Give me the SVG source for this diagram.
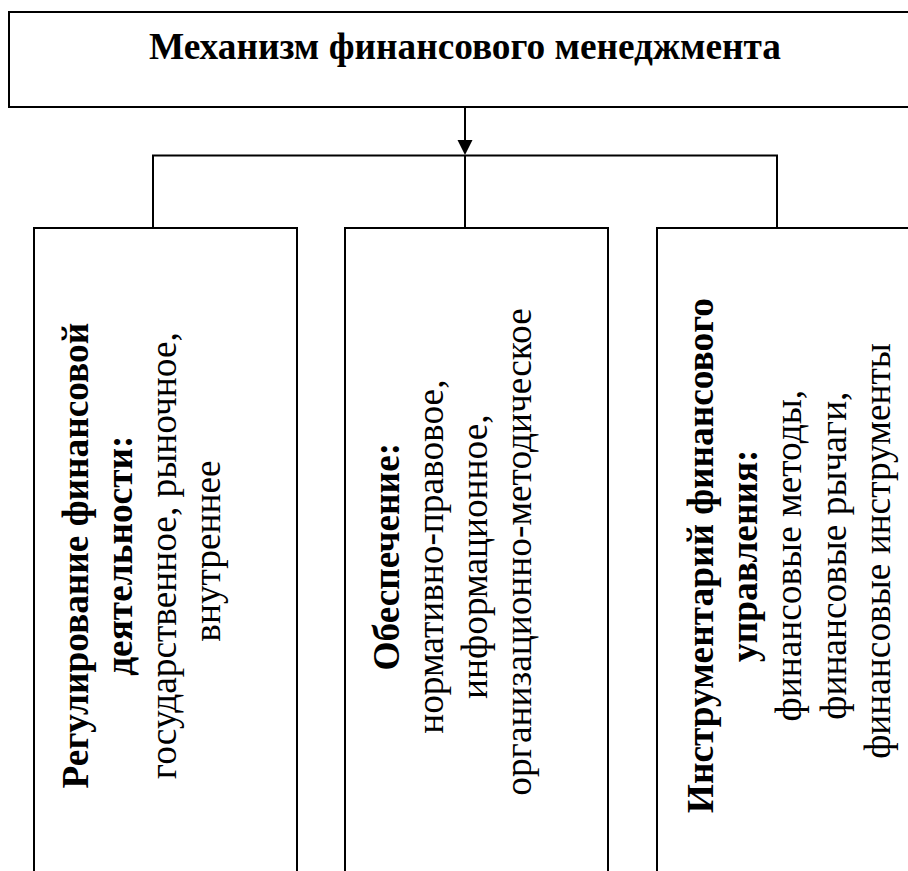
<svg xmlns="http://www.w3.org/2000/svg" width="908" height="871" viewBox="0 0 908 871">
<style>
.box{fill:#fff;stroke:#000;stroke-width:2}
.ln{fill:none;stroke:#000;stroke-width:2}
.t{font-family:"Liberation Serif","Times New Roman",serif;font-size:37.33px;fill:#000}
.b{font-weight:bold}
</style>
<rect width="908" height="871" fill="#fff"/>
<g id="node-title">
<rect class="box" x="9" y="12" width="920" height="95"/>
<text class="t b" x="465" y="59" text-anchor="middle">Механизм финансового менеджмента</text>
</g>
<g id="connectors">
<line class="ln" x1="465" y1="107" x2="465" y2="142"/>
<polygon points="457.5,140 472.5,140 465,155" fill="#000"/>
<line class="ln" x1="152" y1="155.5" x2="778" y2="155.5"/>
<line class="ln" x1="153" y1="155" x2="153" y2="228"/>
<line class="ln" x1="465" y1="155" x2="465" y2="228"/>
<line class="ln" x1="777" y1="155" x2="777" y2="228"/>
</g>
<g id="node-regulation">
<rect class="box" x="34" y="228" width="263" height="700"/>
<text class="t" transform="translate(0,551) rotate(-90)" text-anchor="middle">
<tspan class="b" x="0" y="88">Регулирование финансовой</tspan>
<tspan class="b" x="0" y="132">деятельности:</tspan>
<tspan x="0" y="176">государственное, рыночное,</tspan>
<tspan x="0" y="220">внутреннее</tspan>
</text>
</g>
<g id="node-support">
<rect class="box" x="345" y="228" width="263" height="700"/>
<text class="t" transform="translate(0,552) rotate(-90)" text-anchor="middle">
<tspan class="b" x="0" y="399">Обеспечение:</tspan>
<tspan x="0" y="443">нормативно-правовое,</tspan>
<tspan x="0" y="487">информационное,</tspan>
<tspan x="0" y="531">организационно-методическое</tspan>
</text>
</g>
<g id="node-tools">
<rect class="box" x="657" y="228" width="300" height="700"/>
<text class="t" transform="translate(0,551) rotate(-90)" text-anchor="middle">
<tspan class="b" x="0" y="713">Инструментарий финансового</tspan>
<tspan class="b" x="0" y="757">управления:</tspan>
<tspan x="0" y="801">финансовые методы,</tspan>
<tspan x="0" y="846">финансовые рычаги,</tspan>
<tspan x="0" y="890">финансовые инструменты</tspan>
</text>
</g>
</svg>
